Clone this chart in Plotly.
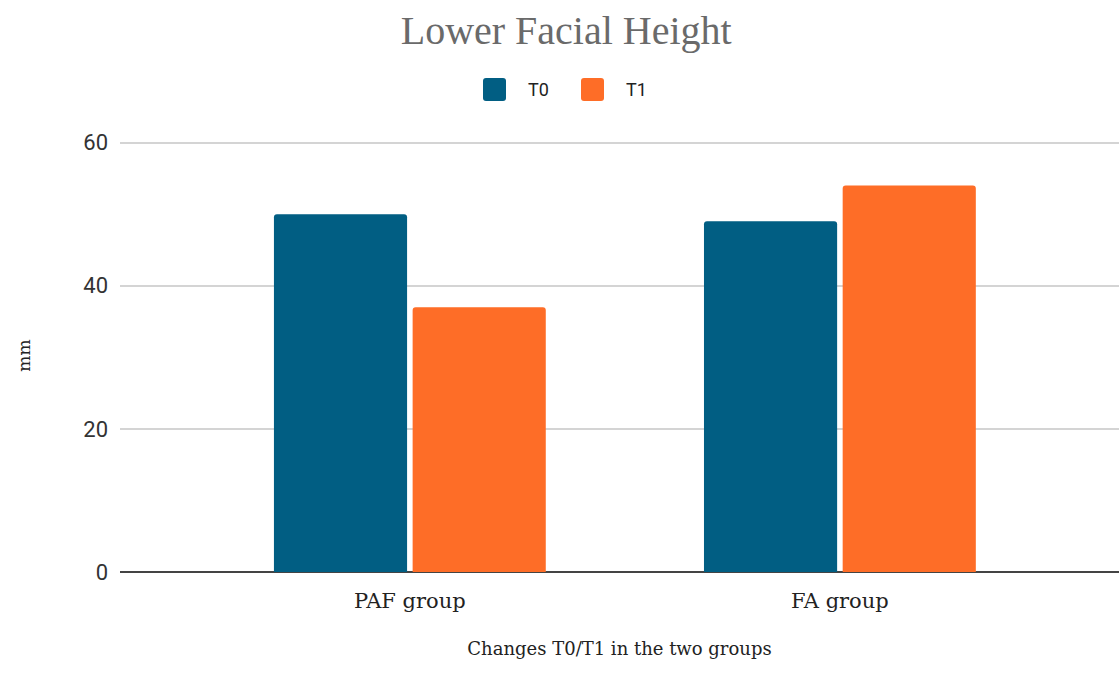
import plotly.graph_objects as go

groups = ["PAF group", "FA group"]
t0_values = [50, 49]
t1_values = [37, 54]
series_names = ["T0", "T1"]
y_ticks = [0, 20, 40, 60]

colors = ["#015e83", "#fe6d27"]
serif_title = "Liberation Serif, Times New Roman, serif"
slab = "DejaVu Serif, serif"
sans = "Roboto, Arial, sans-serif"

W, H = 1119, 675
M_L, M_R, M_T, M_B = 120, 0, 139, 103
Y_MAX = 60.5

fig = go.Figure()
for name, vals, col in zip(series_names, [t0_values, t1_values], colors):
    fig.add_trace(go.Bar(
        x=groups, y=vals, name=name, showlegend=False,
        marker=dict(color=col, cornerradius=3, line=dict(width=0)),
    ))


# Legend drawn by hand so the swatches can be large rounded squares
def px_to_paper(px, py):
    pw = W - M_L - M_R
    ph = H - M_T - M_B
    return (px - M_L) / pw, (H - M_B - py) / ph


def rounded_rect(x0, y0, x1, y1, r):
    (ax0, ay0), (ax1, ay1) = px_to_paper(x0, y0), px_to_paper(x1, y1)
    rx, ry = px_to_paper(x0 + r, y0 + r)
    dx, dy = rx - ax0, ay0 - ry
    return (f"M {ax0 + dx},{ay0} L {ax1 - dx},{ay0} Q {ax1},{ay0} {ax1},{ay0 - dy} "
            f"L {ax1},{ay1 + dy} Q {ax1},{ay1} {ax1 - dx},{ay1} L {ax0 + dx},{ay1} "
            f"Q {ax0},{ay1} {ax0},{ay1 + dy} L {ax0},{ay0 - dy} Q {ax0},{ay0} {ax0 + dx},{ay0} Z")


legend_x = [483, 581]
for name, col, lx in zip(series_names, colors, legend_x):
    fig.add_shape(type="path", xref="paper", yref="paper",
                  path=rounded_rect(lx, 78, lx + 23, 101, 3),
                  fillcolor=col, line=dict(width=0))
    tx, ty = px_to_paper(lx + 43, 90)
    fig.add_annotation(x=tx, y=ty, xref="paper", yref="paper", text=name,
                       showarrow=False, xanchor="left", yanchor="middle",
                       font=dict(family=sans, size=18, color="#222222"))

fig.update_layout(
    width=W, height=H,
    paper_bgcolor="white", plot_bgcolor="white",
    margin=dict(l=M_L, r=M_R, t=M_T, b=M_B),
    barmode="group", bargap=0.355, bargroupgap=0.04,
    showlegend=False,
    title=dict(text="Lower Facial Height", x=0.506, xref="container", xanchor="center",
               y=1 - 30 / H, yref="container", yanchor="middle",
               font=dict(family=serif_title, size=40, color="#6a6a6a")),
    xaxis=dict(
        range=[-0.674, 1.649], showgrid=False, showline=False, zeroline=False,
        tickfont=dict(family=slab, size=21, color="#222222"),
        ticklabelstandoff=14,
        title=dict(text="Changes T0/T1 in the two groups", standoff=30,
                   font=dict(family=slab, size=18, color="#222222")),
    ),
    yaxis=dict(
        range=[0, Y_MAX], tickvals=y_ticks,
        showgrid=True, gridcolor="#d4d4d4", gridwidth=1.5,
        zeroline=True, zerolinecolor="#444444", zerolinewidth=2,
        showline=False,
        tickfont=dict(family=sans, size=22, color="#333333"),
        ticklabelstandoff=11,
        title=dict(text="mm", standoff=48,
                   font=dict(family=slab, size=17, color="#222222")),
    ),
)

fig.write_html("out.html")
